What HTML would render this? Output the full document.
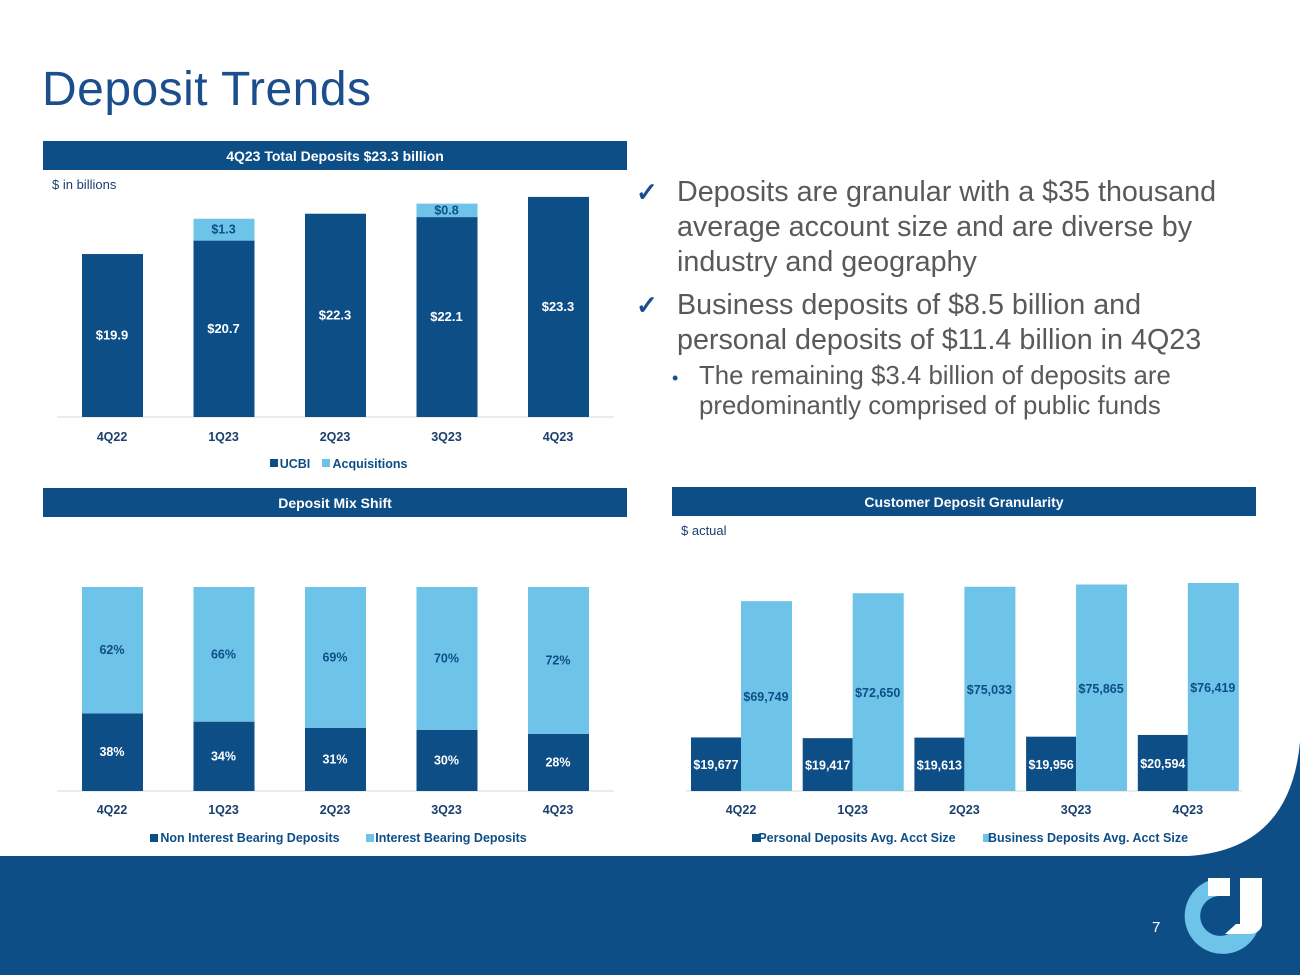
<!DOCTYPE html>
<html><head><meta charset="utf-8"><style>
body{margin:0;width:1300px;height:975px;overflow:hidden;background:#fff;font-family:"Liberation Sans",sans-serif}
svg{display:block}
.lab{font-family:"Liberation Sans",sans-serif;font-weight:bold}
</style></head><body>
<svg id="s" width="1300" height="975" viewBox="0 0 1300 975">
<rect x="0" y="856" width="1300" height="119" fill="#0E4E87"/>
<path d="M1188,856 Q1290,850 1300,742 L1300,856 Z" fill="#0E4E87"/>
<text x="1152" y="932" fill="#fff" font-size="15">7</text>
<g>
<path d="M1225,878 A38,38 0 1,0 1258,930 L1238,925 A20,20 0 1,1 1218,896 Z" fill="#6EC3E8"/>
<path d="M1208,878 L1230,878 L1230,896 L1208,896 Z" fill="#fff"/>
<path d="M1240,878 L1262,878 L1262,925 Q1260,933 1250,934 L1225,934 L1236,924 L1240,924 Z" fill="#fff"/>
</g>
<text x="42" y="105" fill="#1B4F8C" font-size="48" textLength="329">Deposit Trends</text>

<rect x="43" y="141" width="584" height="29" fill="#0E4E87"/>
<text x="335" y="161" text-anchor="middle" fill="#fff" class="lab" font-size="14">4Q23 Total Deposits $23.3 billion</text>
<text x="52" y="189" fill="#1B3F6E" font-size="13">$ in billions</text>

<rect x="43" y="488" width="584" height="29" fill="#0E4E87"/>
<text x="335" y="508" text-anchor="middle" fill="#fff" class="lab" font-size="14">Deposit Mix Shift</text>

<rect x="672" y="487" width="584" height="29" fill="#0E4E87"/>
<text x="964" y="507" text-anchor="middle" fill="#fff" class="lab" font-size="14">Customer Deposit Granularity</text>
<text x="681" y="535" fill="#1B3F6E" font-size="13">$ actual</text>

<g fill="#595959" font-size="28.7">
<text x="636" y="201" fill="#1B4F8C" font-size="26" font-weight="bold">✓</text>
<text x="677" y="201">Deposits are granular with a $35 thousand</text>
<text x="677" y="236">average account size and are diverse by</text>
<text x="677" y="271">industry and geography</text>
<text x="636" y="314" fill="#1B4F8C" font-size="26" font-weight="bold">✓</text>
<text x="677" y="314">Business deposits of $8.5 billion and</text>
<text x="677" y="349">personal deposits of $11.4 billion in 4Q23</text>
<text x="672" y="384" font-size="18" fill="#1B4F8C">•</text>
<text x="699" y="384" font-size="25.8">The remaining $3.4 billion of deposits are</text>
<text x="699" y="414" font-size="25.8">predominantly comprised of public funds</text>
</g>
<g id="c1"></g><g id="c2"></g><g id="c3"></g>
</svg>
<script>
const cats=["4Q22","1Q23","2Q23","3Q23","4Q23"];
const ucbi=[19.9,20.7,22.3,22.1,23.3];
const acq=[0,1.3,0,0.8,0];
const nonInt=[38,34,31,30,28];
const intB=[62,66,69,70,72];
const personal=[19677,19417,19613,19956,20594];
const business=[69749,72650,75033,75865,76419];
const DARK="#0E4E87",LIGHT="#6EC3E8",NS="http://www.w3.org/2000/svg";
function mk(p,t,a){const e=document.createElementNS(NS,t);for(const k in a)e.setAttribute(k,a[k]);p.appendChild(e);return e;}
function txt(p,x,y,s,fill,size){const e=mk(p,"text",{x:x,y:y,"text-anchor":"middle",fill:fill,"font-size":size||12.5,"class":"lab"});e.textContent=s;return e;}
function fmt(v){return "$"+v.toLocaleString("en-US");}
// chart 1
(function(){const g=document.getElementById("c1");const base=417,min=10.2,k=16.8;
const y=v=>base-(v-min)*k;const xs=i=>112+i*111.5;
mk(g,"line",{x1:57,x2:614,y1:base,y2:base,stroke:"#d9d9d9"});
cats.forEach((c,i)=>{const x=xs(i);
let r=mk(g,"rect",{x:x-30,y:y(ucbi[i]),width:61,height:base-y(ucbi[i]),fill:DARK});


txt(g,x,(y(ucbi[i])+base)/2+4,"$"+ucbi[i].toFixed(1),"#fff",13);
if(acq[i]>0){let a=mk(g,"rect",{x:x-30,y:y(ucbi[i]+acq[i]),width:61,height:acq[i]*k,fill:LIGHT});


txt(g,x,y(ucbi[i]+acq[i])+acq[i]*k/2+4,"$"+acq[i].toFixed(1),DARK);}
const l=txt(g,x,441,c,"#1B3F6E");

});
mk(g,"rect",{x:270,y:459,width:8,height:8,fill:DARK});txt(g,295,468,"UCBI",DARK);
mk(g,"rect",{x:322,y:459,width:8,height:8,fill:LIGHT});txt(g,370,468,"Acquisitions",DARK);})();
// chart 2
(function(){const g=document.getElementById("c2");const base=791,k=2.04;const xs=i=>112+i*111.5;
mk(g,"line",{x1:57,x2:614,y1:base,y2:base,stroke:"#d9d9d9"});
cats.forEach((c,i)=>{const x=xs(i);const h1=nonInt[i]*k,h2=intB[i]*k;
let r=mk(g,"rect",{x:x-30,y:base-h1,width:61,height:h1,fill:DARK});


let r2=mk(g,"rect",{x:x-30,y:base-h1-h2,width:61,height:h2,fill:LIGHT});


txt(g,x,base-h1/2+4,nonInt[i]+"%","#fff");
txt(g,x,base-h1-h2/2+4,intB[i]+"%",DARK);
txt(g,x,814,c,"#1B3F6E");});
mk(g,"rect",{x:150,y:834,width:8,height:8,fill:DARK});txt(g,250,842,"Non Interest Bearing Deposits",DARK);
mk(g,"rect",{x:366,y:834,width:8,height:8,fill:LIGHT});txt(g,451,842,"Interest Bearing Deposits",DARK);})();
// chart 3
(function(){const g=document.getElementById("c3");const base=791,k=208/76419;const xs=i=>741+i*111.7;
mk(g,"line",{x1:686,x2:1242,y1:base,y2:base,stroke:"#d9d9d9"});
cats.forEach((c,i)=>{const x=xs(i);const hp=personal[i]*k,hb=business[i]*k;
let r=mk(g,"rect",{x:x-50,y:base-hp,width:50,height:hp,fill:DARK});


let r2=mk(g,"rect",{x:x,y:base-hb,width:51,height:hb,fill:LIGHT});


txt(g,x-25,base-hp/2+5,fmt(personal[i]),"#fff");
txt(g,x+25,base-hb/2+5,fmt(business[i]),DARK);
txt(g,x,814,c,"#1B3F6E");});
mk(g,"rect",{x:752,y:834,width:8,height:8,fill:DARK});txt(g,857,842,"Personal Deposits Avg. Acct Size",DARK);
mk(g,"rect",{x:983,y:834,width:8,height:8,fill:LIGHT});txt(g,1088,842,"Business Deposits Avg. Acct Size",DARK);})();
</script>
</body></html>
